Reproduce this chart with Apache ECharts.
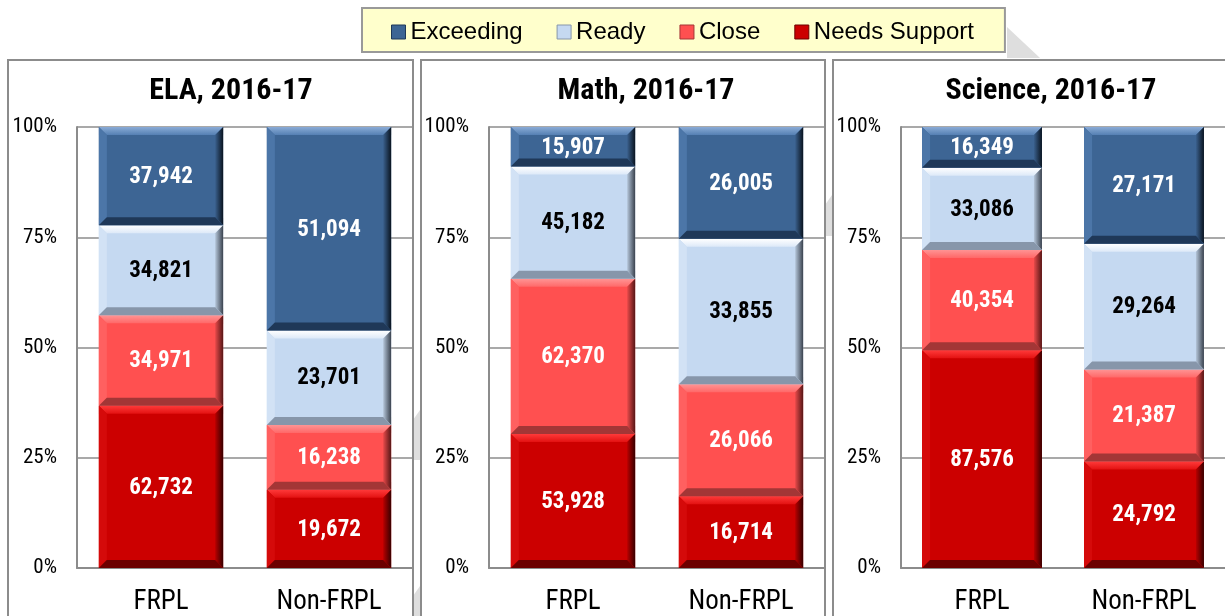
<!DOCTYPE html>
<html>
<head>
<meta charset="utf-8">
<script src="https://cdn.jsdelivr.net/npm/echarts@6/dist/echarts.min.js"></script>
<style>
  html, body { margin: 0; padding: 0; background: #fff; }
  #chart { width: 1225px; height: 616px; }
</style>
</head>
<body>
<div id="chart"></div>
<script>
// Student counts by performance level, FRPL vs Non-FRPL
const categories = ['FRPL', 'Non-FRPL'];
const levels = ['Exceeding', 'Ready', 'Close', 'Needs Support'];
const subjectTitles = ['ELA, 2016-17', 'Math, 2016-17', 'Science, 2016-17'];
const percentTicks = [0, 25, 50, 75, 100];

const elaExceeding = [37942, 51094];
const elaReady = [34821, 23701];
const elaClose = [34971, 16238];
const elaNeedsSupport = [62732, 19672];

const mathExceeding = [15907, 26005];
const mathReady = [45182, 33855];
const mathClose = [62370, 26066];
const mathNeedsSupport = [53928, 16714];

const sciExceeding = [16349, 27171];
const sciReady = [33086, 29264];
const sciClose = [40354, 21387];
const sciNeedsSupport = [87576, 24792];

// per subject, levels in legend order (top of stack first)
const subjects = [
  [elaExceeding, elaReady, elaClose, elaNeedsSupport],
  [mathExceeding, mathReady, mathClose, mathNeedsSupport],
  [sciExceeding, sciReady, sciClose, sciNeedsSupport]
];

const NARROW = '"Liberation Sans Narrow", "Arial Narrow", "Roboto Condensed", sans-serif';
const REGULAR = '"Liberation Sans", Arial, sans-serif';

// bevel palette per level
const palette = {
  'Exceeding':     { base: '#3D6594', top: ['#8AABD6', '#5580B3'], left: '#4C76A8', bottom: '#1F3858', right: ['#3A608D', '#0A1420'], text: '#fff' },
  'Ready':         { base: '#C5D9F1', top: ['#FFFFFF', '#DDE9F8'], left: '#D2E2F5', bottom: '#8796AA', right: ['#B5C6DA', '#3A424E'], text: '#000' },
  'Close':         { base: '#FF5050', top: ['#FF9494', '#FF6868'], left: '#FF6060', bottom: '#A33636', right: ['#E84A4A', '#561616'], text: '#fff' },
  'Needs Support': { base: '#CC0000', top: ['#FF3A3A', '#E31212'], left: '#D50A0A', bottom: '#6C0000', right: ['#B80000', '#380000'], text: '#fff' }
};

const G = echarts.graphic;
function bevelBar(params, api) {
  const cat = api.value(0), start = api.value(1), end = api.value(2), count = api.value(3);
  const pal = palette[levels[api.value(4)]];
  const p0 = api.coord([cat, start]);
  const p1 = api.coord([cat, end]);
  const bw = api.size([1, 0])[0] * 0.74;
  const x0 = p0[0] - bw / 2, x1 = p0[0] + bw / 2;
  const yb = p0[1], yt = p1[1];
  const h = yb - yt;
  const b = Math.min(8, h / 2, bw / 2);
  const children = [
    { type: 'rect', shape: { x: x0, y: yt, width: bw, height: h }, style: { fill: pal.base } },
    { type: 'polygon', shape: { points: [[x0, yt], [x1, yt], [x1 - b, yt + b], [x0 + b, yt + b]] },
      style: { fill: new G.LinearGradient(0, 0, 0, 1, [{ offset: 0, color: pal.top[0] }, { offset: 1, color: pal.top[1] }]) } },
    { type: 'polygon', shape: { points: [[x0, yt], [x0 + b, yt + b], [x0 + b, yb - b], [x0, yb]] },
      style: { fill: pal.left } },
    { type: 'polygon', shape: { points: [[x1, yt], [x1 - b, yt + b], [x1 - b, yb - b], [x1, yb]] },
      style: { fill: new G.LinearGradient(0, 0, 1, 0, [{ offset: 0, color: pal.right[0] }, { offset: 1, color: pal.right[1] }]) } },
    { type: 'polygon', shape: { points: [[x0, yb], [x1, yb], [x1 - b, yb - b], [x0 + b, yb - b]] },
      style: { fill: pal.bottom } },
    { type: 'text', x: (x0 + x1) / 2, y: (yt + yb) / 2 + 1,
      style: { text: count.toLocaleString('en-US'), align: 'center', verticalAlign: 'middle',
               fill: pal.text, font: 'bold 23px ' + NARROW } }
  ];
  return { type: 'group', children: children };
}

const grids = [], xAxes = [], yAxes = [], series = [];
const gridLefts = [77, 489, 901];
subjects.forEach((levelValues, s) => {
  grids.push({ left: gridLefts[s], top: 127, width: 336, height: 444 });
  xAxes.push({
    type: 'category', gridIndex: s, data: categories,
    axisLine: { lineStyle: { color: '#8c8c8c', width: 2 } },
    axisTick: { show: false },
    axisLabel: { color: '#000', fontFamily: NARROW, fontSize: 27, margin: 21 }
  });
  yAxes.push({
    type: 'value', gridIndex: s, min: percentTicks[0], max: percentTicks[percentTicks.length - 1], interval: 25,
    axisLine: { show: true, lineStyle: { color: '#8c8c8c', width: 2 } },
    axisTick: { show: false },
    splitLine: { lineStyle: { color: '#8c8c8c', width: 1.5 } },
    axisLabel: { color: '#000', fontFamily: NARROW, fontSize: 21, margin: 20, formatter: '{value}%' }
  });
  const totals = categories.map((c, i) => levelValues.reduce((a, arr) => a + arr[i], 0));
  const cum = categories.map(() => 0);
  // stack bottom-up: Needs Support, Close, Ready, Exceeding
  for (let l = levels.length - 1; l >= 0; l--) {
    const data = categories.map((c, i) => {
      const pct = levelValues[l][i] / totals[i] * 100;
      const item = [i, cum[i], cum[i] + pct, levelValues[l][i], l];
      cum[i] += pct;
      return item;
    });
    series.push({
      type: 'custom', name: levels[l], xAxisIndex: s, yAxisIndex: s,
      renderItem: bevelBar,
      encode: { x: 0, y: [1, 2] },
      itemStyle: { color: palette[levels[l]].base },
      data: data
    });
  }
});

// panel frames, headings and background accents
const panelRects = [[8, 60, 405, 570], [421, 60, 404, 570], [833, 60, 405, 570]];
const titleCenters = [231, 646, 1051];
const graphics = [
  { type: 'polygon', z: -10, shape: { points: [[1007, 27], [1007, 58], [1040, 58]] }, style: { fill: '#dedede' } },
  { type: 'polygon', z: -10, shape: { points: [[413, 420], [420, 410], [420, 460], [413, 460]] }, style: { fill: '#dedede' } },
  { type: 'polygon', z: -10, shape: { points: [[413, 596], [420, 586], [420, 616], [413, 616]] }, style: { fill: '#dedede' } },
  { type: 'polygon', z: -10, shape: { points: [[825, 205], [832, 195], [832, 236], [825, 236]] }, style: { fill: '#dedede' } }
];
panelRects.forEach(r => graphics.push({
  type: 'rect', z: 0, shape: { x: r[0], y: r[1], width: r[2], height: r[3] },
  style: { fill: null, stroke: '#8c8c8c', lineWidth: 2 }
}));
subjectTitles.forEach((t, i) => graphics.push({
  type: 'text', x: titleCenters[i], y: 91,
  style: { text: t, align: 'center', verticalAlign: 'middle', fill: '#000', font: 'bold 30px ' + NARROW }
}));

const chart = echarts.init(document.getElementById('chart'), null, { renderer: 'canvas' });
chart.setOption({
  animation: false,
  backgroundColor: '#fff',
  legend: {
    data: levels.map(n => ({ name: n, itemStyle: { borderColor: palette[n].bottom, borderWidth: 1 } })),
    left: 362, top: 8,
    padding: [12, 31, 8, 29],
    itemGap: 34, itemWidth: 14, itemHeight: 14,
    icon: 'rect',
    backgroundColor: '#FFFFCC', borderColor: '#999', borderWidth: 2,
    textStyle: { color: '#000', fontFamily: REGULAR, fontSize: 24 }
  },
  grid: grids, xAxis: xAxes, yAxis: yAxes, series: series,
  graphic: graphics
});
</script>
</body>
</html>
